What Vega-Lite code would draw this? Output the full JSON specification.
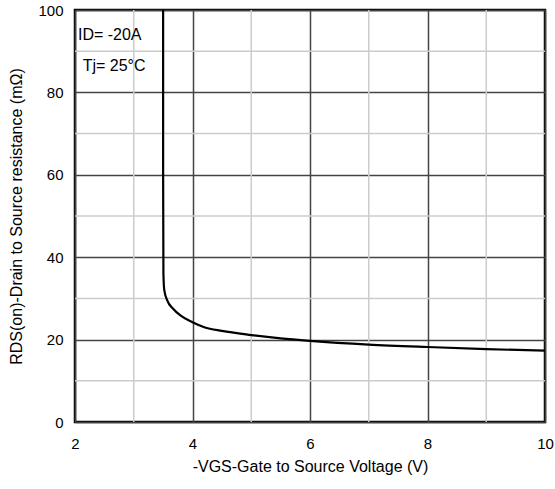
{
  "$schema": "https://vega.github.io/schema/vega-lite/v6.json",
  "width": 470,
  "height": 412,
  "autosize": {"type": "none"},
  "padding": {"left": 75, "top": 10, "right": 10, "bottom": 67},
  "background": "white",
  "config": {
    "view": {"stroke": "black", "strokeWidth": 2.5},
    "font": "Liberation Sans"
  },
  "datasets": {
    "curve": [
      {"vgs": 3.5, "r": 100},
      {"vgs": 3.5, "r": 60},
      {"vgs": 3.505, "r": 36},
      {"vgs": 3.52, "r": 32},
      {"vgs": 3.57, "r": 29.5},
      {"vgs": 3.67, "r": 27.5},
      {"vgs": 3.8, "r": 25.8},
      {"vgs": 4.0, "r": 24.2},
      {"vgs": 4.2, "r": 23.0},
      {"vgs": 4.5, "r": 22.1},
      {"vgs": 5.0, "r": 21.1},
      {"vgs": 5.5, "r": 20.3},
      {"vgs": 6.0, "r": 19.7},
      {"vgs": 7.0, "r": 18.8},
      {"vgs": 8.0, "r": 18.2},
      {"vgs": 9.0, "r": 17.7},
      {"vgs": 10.0, "r": 17.3}
    ],
    "minorX": [{"v": 3}, {"v": 5}, {"v": 7}, {"v": 9}],
    "minorY": [{"v": 10}, {"v": 30}, {"v": 50}, {"v": 70}, {"v": 90}],
    "notes": [
      {"vgs": 2.05, "r": 94, "label": "ID= -20A"},
      {"vgs": 2.13, "r": 86.5, "label": "Tj= 25°C"}
    ]
  },
  "layer": [
    {
      "data": {"name": "minorX"},
      "mark": {"type": "rule", "color": "#cccccc", "strokeWidth": 1.5},
      "encoding": {
        "x": {"field": "v", "type": "quantitative", "scale": {"domain": [2, 10], "nice": false}}
      }
    },
    {
      "data": {"name": "minorY"},
      "mark": {"type": "rule", "color": "#cccccc", "strokeWidth": 1.5},
      "encoding": {
        "y": {"field": "v", "type": "quantitative", "scale": {"domain": [0, 100], "nice": false}}
      }
    },
    {
      "data": {"name": "curve"},
      "mark": {"type": "line", "color": "black", "strokeWidth": 2.2, "interpolate": "monotone", "clip": true},
      "encoding": {
        "x": {
          "field": "vgs", "type": "quantitative",
          "scale": {"domain": [2, 10], "nice": false},
          "axis": {
            "values": [2, 4, 6, 8, 10], "format": "d", "grid": true, "gridColor": "#444", "gridWidth": 1.5,
            "domain": false, "ticks": false, "labelFlush": false, "labelPadding": 14, "labelFontSize": 15, "labelColor": "black",
            "title": "-VGS-Gate to Source Voltage (V)", "titleFontSize": 16, "titleFontWeight": "normal",
            "titleColor": "black", "titlePadding": 7
          }
        },
        "y": {
          "field": "r", "type": "quantitative",
          "scale": {"domain": [0, 100], "nice": false},
          "axis": {
            "values": [0, 20, 40, 60, 80, 100], "format": "d", "grid": true, "gridColor": "#444", "gridWidth": 1.5,
            "domain": false, "ticks": false, "labelFlush": false, "labelPadding": 12, "labelFontSize": 15, "labelColor": "black",
            "title": "RDS(on)-Drain to Source resistance (mΩ)", "titleFontSize": 16, "titleFontWeight": "normal",
            "titleColor": "black", "titlePadding": 13
          }
        }
      }
    },
    {
      "data": {"name": "notes"},
      "mark": {"type": "text", "align": "left", "baseline": "middle", "fontSize": 16, "color": "black"},
      "encoding": {
        "x": {"field": "vgs", "type": "quantitative"},
        "y": {"field": "r", "type": "quantitative"},
        "text": {"field": "label"}
      }
    }
  ]
}
